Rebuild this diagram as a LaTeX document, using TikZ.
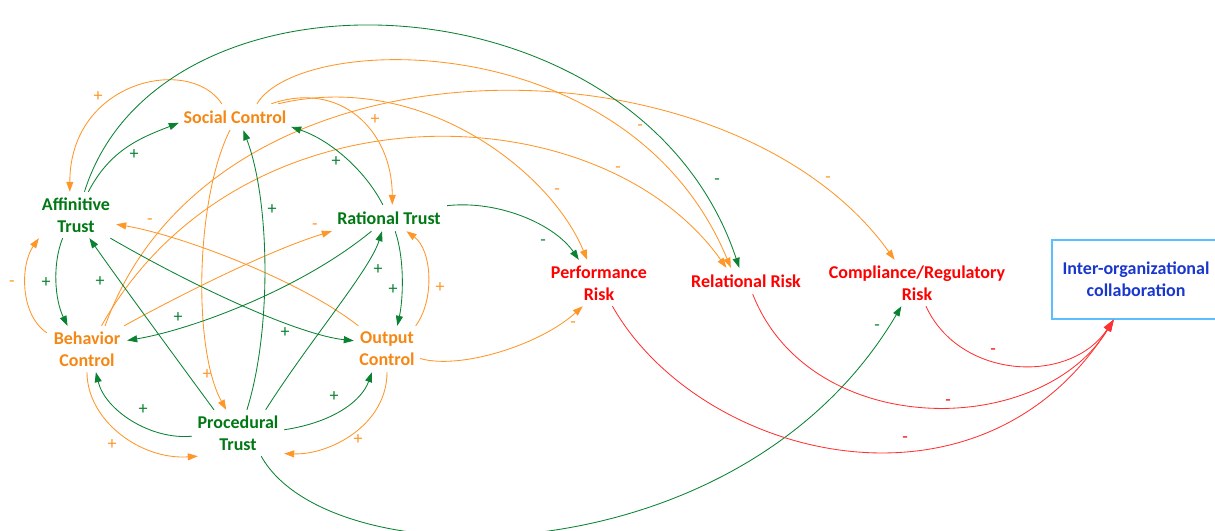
\documentclass[tikz,border=0pt]{standalone}
\usepackage{fontspec}
\setmainfont{Carlito}
\usetikzlibrary{arrows.meta}
\definecolor{otext}{RGB}{245,135,20}
\definecolor{oline}{RGB}{255,150,40}
\definecolor{gtext}{RGB}{0,120,20}
\definecolor{gline}{RGB}{10,130,50}
\definecolor{rtext}{RGB}{255,0,0}
\definecolor{rline}{RGB}{255,50,50}
\definecolor{btext}{RGB}{25,55,205}
\definecolor{bbox}{RGB}{90,190,255}
\tikzset{
  lab/.style={font=\fontsize{18}{22}\selectfont\bfseries, align=center, inner sep=0pt},
  on/.style={lab, text=otext},
  gn/.style={lab, text=gtext},
  rn/.style={lab, text=rtext},
  oa/.style={draw=oline, line width=0.85pt, -{Triangle[length=10pt,width=7pt]}},
  ga/.style={draw=gline, line width=0.85pt, -{Triangle[length=10pt,width=7pt]}},
  ra/.style={draw=rline, line width=0.85pt, -{Triangle[length=12pt,width=8pt]}},
  sg/.style={font=\fontsize{18}{18}\selectfont, inner sep=0pt},
  os/.style={sg, text=oline},
  gs/.style={sg, text=gline},
  rs/.style={sg, text=rtext}
}
\begin{document}
\begin{tikzpicture}[x=1pt,y=-1pt]
\useasboundingbox (0,0) rectangle (1215,530);
% nodes
\node[on, minimum width=112, minimum height=26] (sc) at (235,117) {Social Control};
\node[gn, minimum width=80, minimum height=46] (at) at (76,215) {Affinitive\\Trust};
\node[gn, minimum width=116, minimum height=26] (rt) at (389,218) {Rational Trust};
\node[on, minimum width=80, minimum height=46] (bc) at (87,349) {Behavior\\Control};
\node[on, minimum width=66, minimum height=46] (oc) at (387,349) {Output\\Control};
\node[gn, minimum width=92, minimum height=46] (pt) at (238,433) {Procedural\\Trust};
\node[rn, minimum width=108, minimum height=46] (pr) at (599,283) {Performance\\Risk};
\node[rn, minimum width=122, minimum height=26] (rr) at (746,281) {Relational Risk};
\node[rn, minimum width=190, minimum height=46] (cr) at (917,283) {Compliance/Regulatory\\Risk};
\node[lab, text=btext, draw=bbox, line width=1.2pt, minimum width=168, minimum height=79] (io) at (1136,279.5) {Inter-organizational\\collaboration};
% orange connectors
\draw[oa] (sc.135) .. controls (190,55) and (70,80) .. (at.105);
\draw[oa] (sc.31) .. controls (300,32) and (630,25) .. (rr.139);
\draw[oa] (sc.17) .. controls (420,70) and (550,170) .. (pr.117);
\draw[oa] (sc.20) .. controls (340,80) and (392,130) .. (rt.76);
\draw[oa] (sc.249) .. controls (195,200) and (193,350) .. (pt.117);
\draw[oa] (bc.158) .. controls (20,315) and (20,265) .. (at.212);
\draw[oa] (bc.south) .. controls (87,420) and (140,460) .. (pt.210);
\draw[oa] (oc.south) .. controls (387,425) and (330,455) .. (pt.336);
\draw[oa] (oc.39) .. controls (435,300) and (432,250) .. (rt.323);
\draw[oa] (oc.344) .. controls (460,370) and (540,345) .. (pr.235);
\draw[oa] (oc.141) .. controls (300,280) and (180,235) .. (at.347);
\draw[oa] (bc.32) .. controls (180,295) and (270,250) .. (rt.193);
\draw[oa] (bc.58) .. controls (240,80) and (600,90) .. (rr.146);
\draw[oa] (bc.52) .. controls (215,20) and (730,30) .. (cr.134);
% green connectors
\draw[ga] (at.62) .. controls (110,150) and (140,138) .. (sc.186);
\draw[ga] (at.70) .. controls (160,-50) and (640,-30) .. (rr.117);
\draw[ga] (at.240) .. controls (52,265) and (55,300) .. (bc.130);
\draw[ga] (at.326) .. controls (200,290) and (300,335) .. (oc.166);
\draw[ga] (pt.136) .. controls (170,350) and (115,275) .. (at.300);
\draw[ga] (pt.69) .. controls (272,330) and (270,200) .. (sc.302);
\draw[ga] (pt.40) .. controls (310,340) and (370,270) .. (rt.242);
\draw[ga] (pt.184) .. controls (150,440) and (105,410) .. (bc.291);
\draw[ga] (pt.4) .. controls (335,422) and (362,400) .. (oc.237);
\draw[ga] (pt.315) .. controls (330,580) and (740,580) .. (cr.236);
\draw[ga] (rt.115) .. controls (365,170) and (330,140) .. (sc.350);
\draw[ga] (rt.217) .. controls (300,290) and (190,330) .. (bc.12);
\draw[ga] (rt.295) .. controls (405,260) and (403,300) .. (oc.66);
\draw[ga] (rt.12) .. controls (500,200) and (555,225) .. (pr.131);
% red connectors
\draw[ra] (pr.300) .. controls (700,460) and (980,530) .. (io.241);
\draw[ra] (rr.297) .. controls (810,440) and (1040,440) .. (io.241);
\draw[ra] (cr.291) .. controls (960,380) and (1070,385) .. (io.241);
% signs
\node[os] (s1) at (98,97) {+};
\node[os] (s2) at (640,128) {-};
\node[os] (s3) at (557,192) {-};
\node[os] (s4) at (375,120) {+};
\node[os] (s5) at (207,375) {+};
\node[os] (s6) at (12,284) {-};
\node[os] (s7) at (112,445) {+};
\node[os] (s8) at (358,440) {+};
\node[os] (s9) at (440,288) {+};
\node[os] (s10) at (573,325) {-};
\node[os] (s11) at (150,222) {-};
\node[os] (s12) at (315,227) {-};
\node[os] (s13) at (618,170) {-};
\node[os] (s14) at (828,180) {-};
\node[gs] (s15) at (134,155) {+};
\node[gs] (s16) at (717,182) {-};
\node[gs] (s17) at (46,283) {+};
\node[gs] (s18) at (285,333) {+};
\node[gs] (s19) at (100,282) {+};
\node[gs] (s20) at (272,210) {+};
\node[gs] (s21) at (378,270) {+};
\node[gs] (s22) at (143,410) {+};
\node[gs] (s23) at (334,397) {+};
\node[gs] (s24) at (877,328) {-};
\node[gs] (s25) at (336,162) {+};
\node[gs] (s26) at (178,318) {+};
\node[gs] (s27) at (393,290) {+};
\node[gs] (s28) at (543,243) {-};
\node[rs] (s29) at (905,440) {-};
\node[rs] (s30) at (948,403) {-};
\node[rs] (s31) at (993,352) {-};
\end{tikzpicture}
\end{document}
